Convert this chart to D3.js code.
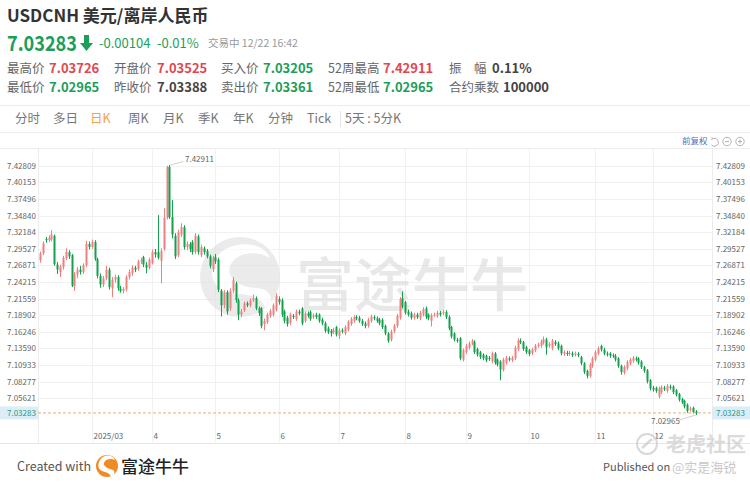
<!DOCTYPE html>
<html><head><meta charset="utf-8">
<script src="https://cdn.jsdelivr.net/npm/d3@7"></script>
<style>
html,body{margin:0;padding:0;background:#fff;}
svg{display:block;}
text{font-family:"Noto Sans CJK SC","Noto Sans",sans-serif;}
</style>
</head>
<body>
<svg id="c" width="750" height="486"></svg>
<script>
// ---------------- DATA ----------------
const symbol = "USDCNH 美元/离岸人民币";
const lastPrice = 7.03283;
const change = "-0.00104";
const changePct = "-0.01%";
const status = "交易中 12/22 16:42";
const statsRow1 = [["最高价","7.03726","up"],["开盘价","7.03525","up"],["买入价","7.03205","down"],["52周最高","7.42911","up"],["振　幅","0.11%","flat"]];
const statsRow2 = [["最低价","7.02965","down"],["昨收价","7.03388","flat"],["卖出价","7.03361","down"],["52周最低","7.02965","down"],["合约乘数","100000","flat"]];
const tabs = ["分时","多日","日K","周K","月K","季K","年K","分钟","Tick","5天 : 5分K"];
const activeTab = "日K";
const yTickValues = [7.42809,7.40153,7.37496,7.34840,7.32184,7.29527,7.26871,7.24215,7.21559,7.18902,7.16246,7.13590,7.10933,7.08277,7.05621];
const monthLabels = ["2025/03","4","5","6","7","8","9","10","11","12"];
const firstDay = "2025-02-05", lastDay = "2025-12-22";

const open = [7.277,7.288,7.311,7.309,7.310,7.316,7.270,7.258,7.266,7.280,7.290,7.285,7.236,7.254,7.262,7.258,7.269,7.303,7.298,7.306,
7.279,7.252,7.238,7.248,7.262,7.232,7.246,7.250,7.232,7.228,7.230,7.250,7.256,7.265,7.263,7.275,7.282,7.270,7.265,7.272,
7.290,7.290,7.276,7.295,7.345,7.426,7.346,7.316,7.285,7.318,7.330,7.298,7.303,7.306,7.290,7.315,7.285,7.296,7.292,7.283,
7.262,7.282,7.278,7.228,7.205,7.226,7.200,7.228,7.240,7.213,7.190,7.197,7.208,7.205,7.213,7.216,7.200,7.200,7.175,7.178,
7.188,7.190,7.198,7.215,7.213,7.195,7.185,7.177,7.188,7.183,7.195,7.200,7.180,7.192,7.194,7.186,7.190,7.190,7.182,7.176,
7.168,7.164,7.162,7.170,7.156,7.165,7.160,7.166,7.175,7.180,7.186,7.185,7.180,7.176,7.172,7.180,7.186,7.184,7.182,7.182,
7.172,7.160,7.150,7.163,7.172,7.185,7.216,7.210,7.195,7.192,7.185,7.190,7.184,7.190,7.200,7.190,7.180,7.189,7.188,7.193,
7.192,7.194,7.186,7.170,7.160,7.150,7.152,7.118,7.130,7.137,7.144,7.146,7.135,7.130,7.126,7.124,7.121,7.115,7.128,7.118,
7.115,7.102,7.113,7.120,7.117,7.120,7.135,7.148,7.146,7.138,7.133,7.128,7.133,7.140,7.140,7.145,7.150,7.140,7.136,7.146,
7.144,7.140,7.127,7.129,7.127,7.128,7.126,7.127,7.122,7.112,7.100,7.092,7.108,7.118,7.128,7.140,7.134,7.128,7.128,7.125,
7.124,7.120,7.108,7.097,7.104,7.112,7.116,7.120,7.120,7.115,7.106,7.101,7.085,7.073,7.073,7.059,7.066,7.073,7.068,7.075,
7.075,7.069,7.063,7.055,7.052,7.046,7.038,7.041,7.03525];
const close = [7.288,7.304,7.309,7.313,7.318,7.271,7.262,7.267,7.281,7.290,7.283,7.236,7.254,7.262,7.258,7.269,7.303,7.298,7.306,7.279,
7.252,7.238,7.248,7.262,7.234,7.246,7.250,7.232,7.228,7.231,7.250,7.258,7.265,7.262,7.275,7.277,7.270,7.265,7.278,7.290,
7.286,7.281,7.292,7.345,7.426,7.346,7.318,7.283,7.322,7.330,7.298,7.303,7.295,7.290,7.316,7.290,7.298,7.290,7.283,7.268,
7.280,7.275,7.230,7.205,7.225,7.195,7.228,7.245,7.213,7.190,7.195,7.208,7.205,7.213,7.216,7.200,7.192,7.172,7.180,7.190,
7.196,7.205,7.220,7.210,7.190,7.180,7.175,7.190,7.186,7.195,7.192,7.176,7.192,7.188,7.183,7.189,7.186,7.180,7.176,7.164,
7.162,7.160,7.166,7.158,7.165,7.163,7.170,7.178,7.183,7.186,7.184,7.180,7.175,7.172,7.182,7.187,7.184,7.180,7.176,7.170,
7.160,7.148,7.163,7.172,7.188,7.215,7.203,7.193,7.190,7.185,7.190,7.186,7.193,7.199,7.186,7.184,7.189,7.190,7.193,7.190,
7.194,7.186,7.168,7.155,7.150,7.148,7.120,7.133,7.140,7.144,7.148,7.130,7.126,7.122,7.120,7.117,7.119,7.128,7.113,7.110,
7.102,7.118,7.121,7.118,7.121,7.137,7.149,7.146,7.135,7.130,7.127,7.134,7.140,7.142,7.147,7.151,7.138,7.143,7.148,7.143,
7.136,7.128,7.130,7.127,7.129,7.125,7.128,7.125,7.112,7.098,7.092,7.110,7.120,7.130,7.136,7.134,7.128,7.126,7.124,7.124,
7.118,7.108,7.098,7.106,7.114,7.118,7.121,7.118,7.113,7.106,7.100,7.083,7.072,7.070,7.068,7.072,7.074,7.071,7.076,7.073,
7.066,7.062,7.054,7.050,7.043,7.036,7.040,7.03388,7.03283];
const high = [7.291,7.307,7.314,7.317,7.325,7.318,7.274,7.270,7.284,7.296,7.293,7.287,7.258,7.266,7.268,7.272,7.308,7.307,7.310,7.309,
7.281,7.256,7.252,7.268,7.265,7.250,7.254,7.253,7.236,7.234,7.253,7.262,7.269,7.268,7.278,7.281,7.284,7.274,7.281,7.294,
7.295,7.349,7.296,7.360,7.428,7.42911,7.373,7.320,7.326,7.336,7.333,7.307,7.306,7.309,7.320,7.318,7.302,7.299,7.295,7.286,
7.284,7.287,7.281,7.231,7.229,7.229,7.232,7.250,7.243,7.216,7.199,7.211,7.211,7.216,7.222,7.219,7.203,7.202,7.184,7.193,
7.199,7.208,7.224,7.219,7.216,7.198,7.188,7.193,7.191,7.198,7.198,7.202,7.195,7.195,7.197,7.192,7.193,7.192,7.185,7.179,
7.171,7.167,7.169,7.172,7.168,7.168,7.173,7.181,7.186,7.189,7.189,7.188,7.183,7.179,7.185,7.190,7.189,7.187,7.185,7.184,
7.174,7.162,7.166,7.175,7.191,7.218,7.227,7.212,7.198,7.195,7.193,7.193,7.196,7.202,7.203,7.192,7.192,7.193,7.196,7.196,
7.197,7.197,7.189,7.172,7.162,7.153,7.154,7.136,7.143,7.147,7.151,7.149,7.137,7.132,7.128,7.126,7.124,7.131,7.130,7.120,
7.117,7.121,7.124,7.123,7.124,7.140,7.152,7.152,7.148,7.140,7.135,7.137,7.143,7.145,7.150,7.155,7.153,7.146,7.151,7.149,
7.147,7.142,7.133,7.132,7.132,7.131,7.131,7.130,7.124,7.114,7.102,7.113,7.123,7.133,7.139,7.142,7.137,7.131,7.130,7.128,
7.127,7.122,7.110,7.109,7.117,7.121,7.124,7.123,7.122,7.117,7.108,7.103,7.087,7.076,7.075,7.075,7.077,7.076,7.079,7.078,
7.077,7.071,7.065,7.057,7.054,7.048,7.043,7.043,7.03726];
const low = [7.273,7.285,7.305,7.306,7.307,7.268,7.255,7.250,7.262,7.277,7.279,7.234,7.228,7.248,7.254,7.255,7.266,7.294,7.295,7.276,
7.248,7.233,7.234,7.245,7.230,7.218,7.241,7.228,7.225,7.224,7.227,7.246,7.252,7.258,7.260,7.271,7.266,7.256,7.262,7.270,
7.281,7.278,7.240,7.292,7.342,7.343,7.312,7.279,7.282,7.314,7.294,7.293,7.290,7.286,7.287,7.286,7.282,7.286,7.280,7.264,
7.258,7.271,7.226,7.187,7.200,7.190,7.196,7.224,7.209,7.181,7.186,7.194,7.202,7.202,7.210,7.197,7.188,7.168,7.165,7.175,
7.185,7.187,7.195,7.206,7.186,7.176,7.171,7.173,7.183,7.180,7.189,7.173,7.177,7.185,7.180,7.183,7.183,7.177,7.173,7.161,
7.159,7.155,7.159,7.155,7.151,7.160,7.157,7.163,7.172,7.177,7.181,7.177,7.172,7.168,7.169,7.177,7.181,7.177,7.173,7.167,
7.157,7.145,7.147,7.160,7.169,7.182,7.200,7.190,7.187,7.182,7.182,7.183,7.181,7.187,7.183,7.181,7.171,7.186,7.185,7.187,
7.189,7.183,7.165,7.152,7.147,7.145,7.117,7.115,7.127,7.134,7.141,7.127,7.123,7.119,7.117,7.114,7.116,7.112,7.110,7.107,
7.085,7.099,7.110,7.115,7.114,7.117,7.132,7.143,7.132,7.127,7.124,7.125,7.130,7.137,7.137,7.142,7.126,7.137,7.133,7.140,
7.133,7.125,7.124,7.124,7.124,7.122,7.123,7.122,7.109,7.095,7.088,7.089,7.105,7.115,7.125,7.131,7.125,7.123,7.121,7.121,
7.115,7.105,7.094,7.094,7.101,7.109,7.113,7.115,7.110,7.103,7.097,7.080,7.069,7.067,7.065,7.056,7.063,7.068,7.065,7.070,
7.063,7.059,7.051,7.047,7.040,7.033,7.035,7.032,7.02965];

// ---------------- STYLE ----------------
const RED = "#e0484e", GREEN = "#1b9e59", CRED = "#ef8080", CGREEN = "#14a04c";
const GRID = "#f1f1f1", AXIS = "#666";
const svg = d3.select("#c");
const plot = {left:38, right:712, top:148, bottom:443};

// ---------------- HEADER ----------------
svg.append("text").attr("x",7).attr("y",22).attr("font-size",17).attr("font-weight",700).attr("fill","#333").text(symbol);
svg.append("text").attr("x",7).attr("y",51).attr("font-size",21).attr("font-weight",600).attr("fill",GREEN)
   .attr("textLength",70).attr("lengthAdjust","spacingAndGlyphs").text(d3.format(".5f")(lastPrice));
// down arrow
svg.append("path").attr("fill",GREEN).attr("d","M84,35h5v8h4l-6.5,8l-6.5,-8h4z");
svg.append("text").attr("x",99).attr("y",48).attr("font-size",13).attr("fill",GREEN).text(change);
svg.append("text").attr("x",157).attr("y",48).attr("font-size",13).attr("fill",GREEN).text(changePct);
svg.append("text").attr("x",208).attr("y",47).attr("font-size",10.5).attr("fill","#999").text(status);

const colX = [[7,49],[114,157],[221,263],[328,383],[449,492]];
const colX2 = [[7,49],[114,157],[221,263],[328,383],[449,503]];
function statRow(row, y, cols){
  row.forEach((r,i)=>{
    svg.append("text").attr("x",cols[i][0]).attr("y",y).attr("font-size",12.5).attr("fill","#666").text(r[0]);
    svg.append("text").attr("x",cols[i][1]).attr("y",y).attr("font-size",13).attr("font-weight",700)
      .attr("fill", r[2]==="up"?RED:(r[2]==="down"?GREEN:"#444")).text(r[1]);
  });
}
statRow(statsRow1, 73, colX);
statRow(statsRow2, 92, colX2);

// tabs
svg.append("line").attr("x1",0).attr("x2",750).attr("y1",105.5).attr("y2",105.5).attr("stroke","#ececec");
svg.append("line").attr("x1",0).attr("x2",750).attr("y1",132.5).attr("y2",132.5).attr("stroke","#ececec");
const tabX = [15,53,90,128,163,198,233,268,307,345];
tabs.forEach((t,i)=>{
  svg.append("text").attr("x",tabX[i]).attr("y",123).attr("font-size",12.5)
    .attr("fill", t===activeTab?"#f2a349":"#777").text(t);
});
svg.append("line").attr("x1",340.5).attr("x2",340.5).attr("y1",111).attr("y2",127).attr("stroke","#e4e4e4");

// 前复权 + icons
svg.append("text").attr("x",682).attr("y",144).attr("font-size",8.5).attr("fill","#3b6fd0").text("前复权");
const ic = svg.append("g").attr("stroke","#aaa").attr("fill","none").attr("stroke-width",0.9);
ic.append("path").attr("d","M713,138.5 a4,4 0 1 1 -1.5,6.5 M713,138.5 l-1.5,-1.5 M713,138.5 l-1.8,1.2");
ic.append("circle").attr("cx",727).attr("cy",141.5).attr("r",4.2);
ic.append("line").attr("x1",725).attr("x2",729).attr("y1",141.5).attr("y2",141.5);
ic.append("circle").attr("cx",740).attr("cy",141.5).attr("r",4.2);
ic.append("line").attr("x1",738).attr("x2",742).attr("y1",141.5).attr("y2",141.5);
ic.append("line").attr("x1",740).attr("x2",740).attr("y1",139.5).attr("y2",143.5);

// ---------------- SCALES ----------------
const parse = d3.utcParse("%Y-%m-%d");
const days = d3.utcDays(parse(firstDay), d3.utcDay.offset(parse(lastDay),1)).filter(d=>d.getUTCDay()!==0 && d.getUTCDay()!==6);
const n = close.length;
const dates = days.slice(0,n);
const x = d3.scaleLinear().domain([0, n-1]).range([39.9, 696]);
const y = d3.scaleLinear().domain([yTickValues[0], yTickValues[yTickValues.length-1]]).range([165.7, 398.3]);

const monthIdx = [];
dates.forEach((d,i)=>{ if(i>0 && d.getUTCMonth()!==dates[i-1].getUTCMonth()) monthIdx.push(i); });

// ---------------- GRID ----------------
const g = svg.append("g");
g.selectAll(".hg").data(yTickValues).join("line")
  .attr("x1",plot.left).attr("x2",plot.right)
  .attr("y1",d=>Math.round(y(d))+0.5).attr("y2",d=>Math.round(y(d))+0.5)
  .attr("stroke",GRID);
g.selectAll(".vg").data(monthIdx).join("line")
  .attr("x1",d=>Math.round(x(d))+0.5).attr("x2",d=>Math.round(x(d))+0.5)
  .attr("y1",plot.top).attr("y2",plot.bottom).attr("stroke",GRID);
[plot.left, plot.right].forEach(px=>{
  g.append("line").attr("x1",px+0.5).attr("x2",px+0.5).attr("y1",plot.top).attr("y2",plot.bottom).attr("stroke","#ececec");
});
g.append("line").attr("x1",0).attr("x2",750).attr("y1",plot.top+0.5).attr("y2",plot.top+0.5).attr("stroke","#ececec");
g.append("line").attr("x1",0).attr("x2",750).attr("y1",plot.bottom+0.5).attr("y2",plot.bottom+0.5).attr("stroke","#e6e6e6");

// ---------------- WATERMARK ----------------
const wm = svg.append("g").attr("opacity",0.55);
wm.append("circle").attr("cx",240).attr("cy",277).attr("r",40).attr("fill","#dcdcdc");
wm.append("path").attr("fill","#fff").attr("d","M214,262 C222,240 262,238 270,258 C256,250 236,252 230,266 C226,278 240,288 256,288 C270,288 276,300 266,310 C262,296 248,294 234,294 C216,292 208,278 214,262 Z");
wm.append("text").attr("x",296).attr("y",306).attr("font-size",58).attr("fill","#d6d6d6").attr("font-weight",500).text("富途牛牛");

// ---------------- AXIS LABELS ----------------
const yl = svg.append("g").attr("font-size",8).attr("fill",AXIS);
yTickValues.forEach(v=>{
  yl.append("text").attr("x",7).attr("y",y(v)+3).text(d3.format(".5f")(v));
  yl.append("text").attr("x",716).attr("y",y(v)+3).text(d3.format(".5f")(v));
});
const xl = svg.append("g").attr("font-size",8).attr("fill",AXIS);
monthIdx.forEach((idx,k)=>{
  xl.append("text").attr("x",Math.round(x(idx))+1.5).attr("y",439).text(monthLabels[k]);
});

// ---------------- CANDLES ----------------
const cg = svg.append("g");
const idx = d3.range(n);
const col = i => close[i] >= open[i] ? CRED : CGREEN;
cg.selectAll(".w").data(idx).join("line")
  .attr("x1",i=>Math.round(x(i))+0.5).attr("x2",i=>Math.round(x(i))+0.5)
  .attr("y1",i=>y(high[i])).attr("y2",i=>y(low[i]))
  .attr("stroke",col).attr("stroke-width",1);
cg.selectAll(".b").data(idx).join("rect")
  .attr("x",i=>Math.round(x(i))-0.5).attr("width",2)
  .attr("y",i=>Math.min(y(open[i]),y(close[i])))
  .attr("height",i=>Math.max(1,Math.abs(y(open[i])-y(close[i]))))
  .attr("fill",col);

// ---------------- LAST PRICE LINE ----------------
const ly = y(lastPrice);
svg.append("line").attr("x1",plot.left).attr("x2",plot.right).attr("y1",ly).attr("y2",ly)
  .attr("stroke","#eea36a").attr("stroke-dasharray","3,2").attr("stroke-width",0.9);
[[0,38],[712,38]].forEach(([bx,bw])=>{
  svg.append("rect").attr("x",bx).attr("y",ly-6.5).attr("width",bw).attr("height",13).attr("fill","#dcedf8");
  svg.append("text").attr("x",bx===0?7:716).attr("y",ly+3).attr("font-size",8).attr("fill","#2a9c7c").text(d3.format(".5f")(lastPrice));
});

// ---------------- MAX / MIN ANNOTATIONS ----------------
const iMax = d3.maxIndex(high), iMin = d3.minIndex(low);
svg.append("line").attr("x1",x(iMax)+1).attr("y1",y(high[iMax])).attr("x2",183).attr("y2",161.5).attr("stroke","#bbb").attr("stroke-width",0.7);
svg.append("text").attr("x",185).attr("y",162).attr("font-size",8).attr("fill","#666").text(d3.format(".5f")(high[iMax]));
svg.append("line").attr("x1",x(iMin)).attr("y1",y(low[iMin])).attr("x2",679).attr("y2",420).attr("stroke","#bbb").attr("stroke-width",0.7);
svg.append("text").attr("x",651).attr("y",424).attr("font-size",8).attr("fill","#666").text(d3.format(".5f")(low[iMin]));

// ---------------- FOOTER ----------------
svg.append("text").attr("x",17).attr("y",471).attr("font-size",12.5).attr("fill","#555").text("Created with");
const lg = svg.append("g");
lg.append("circle").attr("cx",107).attr("cy",466).attr("r",11).attr("fill","#f08a24");
lg.append("path").attr("fill","#fff").attr("d","M100,460 C103,454 113,454 115,460 C111,458 105,459 104,463 C103,467 110,469 113,470 C116,472 114,476 111,477 C111,474 106,472 102,471 C97,469 98,463 100,460 Z");
svg.append("text").attr("x",121).attr("y",473).attr("font-size",17).attr("fill","#222").attr("font-weight",500).text("富途牛牛");
svg.append("text").attr("x",603).attr("y",471).attr("font-size",11).attr("fill","#555").text("Published on");
svg.append("text").attr("x",672).attr("y",472).attr("font-size",13).attr("fill","#bbb").attr("opacity",0.8).text("@实是海锐");
// community watermark
const tw = svg.append("g").attr("opacity",0.75);
tw.append("circle").attr("cx",647).attr("cy",444).attr("r",10).attr("fill","none").attr("stroke","#ccc").attr("stroke-width",2);
tw.append("path").attr("d","M642,448 L652,439").attr("stroke","#ccc").attr("stroke-width",2.5);
tw.append("text").attr("x",666).attr("y",452).attr("font-size",20).attr("fill","#cfcfcf").attr("font-weight",700).text("老虎社区");
</script>
</body></html>
